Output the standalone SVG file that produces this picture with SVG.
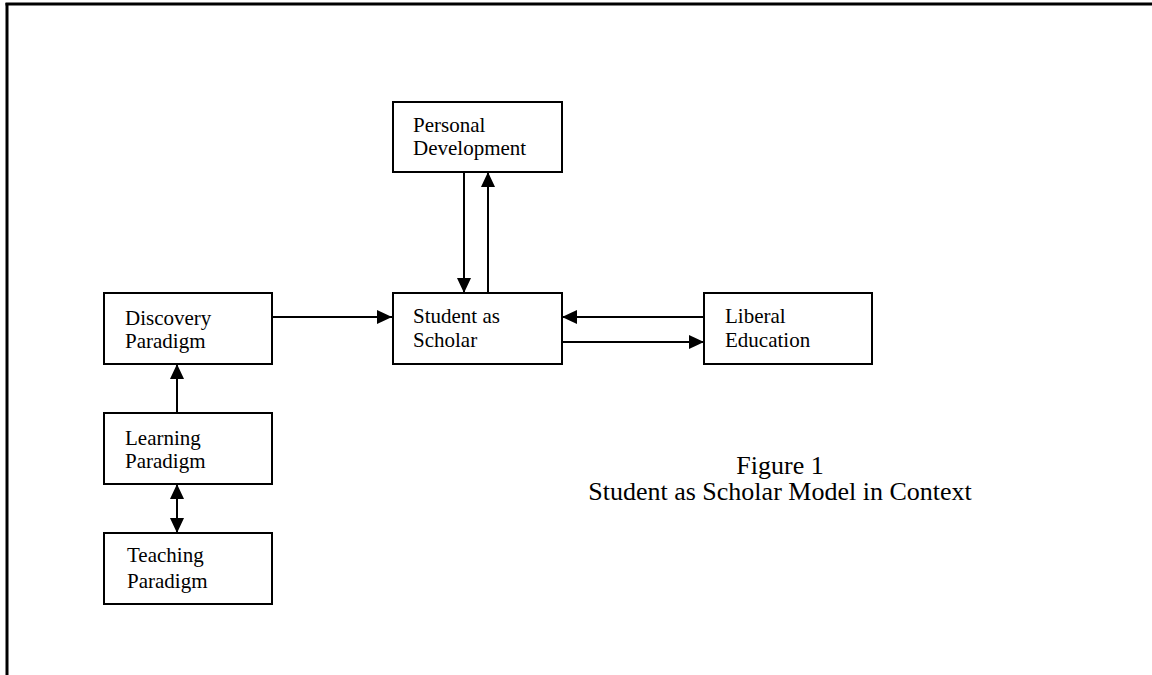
<svg xmlns="http://www.w3.org/2000/svg" width="1152" height="675" viewBox="0 0 1152 675">
<style>
.box{fill:#fff;stroke:#000;stroke-width:2}
.lbl{font-family:"Liberation Serif","Times New Roman",serif;font-size:21px;fill:#000}
.cap{font-family:"Liberation Serif","Times New Roman",serif;font-size:26px;fill:#000;text-anchor:middle}
.conn{stroke:#000;stroke-width:2;fill:none}
</style>
<defs>
<marker id="ah" markerUnits="userSpaceOnUse" markerWidth="16" markerHeight="14" refX="15" refY="7" orient="auto-start-reverse">
<path d="M0,0 L15,7 L0,14 Z" fill="#000"/>
</marker>
</defs>
<rect width="1152" height="675" fill="#fff"/>
<g id="frame">
<line x1="5.5" y1="4" x2="1152" y2="4" stroke="#000" stroke-width="3"/>
<line x1="7" y1="3" x2="7" y2="675" stroke="#000" stroke-width="3"/>
</g>
<g id="connectors">
<line class="conn" x1="464" y1="172" x2="464" y2="293" marker-end="url(#ah)"/>
<line class="conn" x1="488" y1="293" x2="488" y2="172" marker-end="url(#ah)"/>
<line class="conn" x1="272" y1="317" x2="392" y2="317" marker-end="url(#ah)"/>
<line class="conn" x1="704" y1="317" x2="562" y2="317" marker-end="url(#ah)"/>
<line class="conn" x1="562" y1="342" x2="704" y2="342" marker-end="url(#ah)"/>
<line class="conn" x1="177" y1="413" x2="177" y2="364" marker-end="url(#ah)"/>
<line class="conn" x1="177" y1="484" x2="177" y2="533" marker-start="url(#ah)" marker-end="url(#ah)"/>
</g>
<g id="personal">
<rect class="box" x="393" y="102" width="169" height="70"/>
<text class="lbl" x="413" y="132">Personal</text>
<text class="lbl" x="413" y="155">Development</text>
</g>
<g id="student">
<rect class="box" x="393" y="293" width="169" height="71"/>
<text class="lbl" x="413" y="323">Student as</text>
<text class="lbl" x="413" y="347">Scholar</text>
</g>
<g id="discovery">
<rect class="box" x="104" y="293" width="168" height="71"/>
<text class="lbl" x="125" y="325">Discovery</text>
<text class="lbl" x="125" y="348">Paradigm</text>
</g>
<g id="liberal">
<rect class="box" x="704" y="293" width="168" height="71"/>
<text class="lbl" x="725" y="323">Liberal</text>
<text class="lbl" x="725" y="347">Education</text>
</g>
<g id="learning">
<rect class="box" x="104" y="413" width="168" height="71"/>
<text class="lbl" x="125" y="445">Learning</text>
<text class="lbl" x="125" y="468">Paradigm</text>
</g>
<g id="teaching">
<rect class="box" x="104" y="533" width="168" height="71"/>
<text class="lbl" x="127" y="562">Teaching</text>
<text class="lbl" x="127" y="588">Paradigm</text>
</g>
<g id="caption">
<text class="cap" x="780" y="474">Figure 1</text>
<text class="cap" x="780" y="500">Student as Scholar Model in Context</text>
</g>
</svg>
